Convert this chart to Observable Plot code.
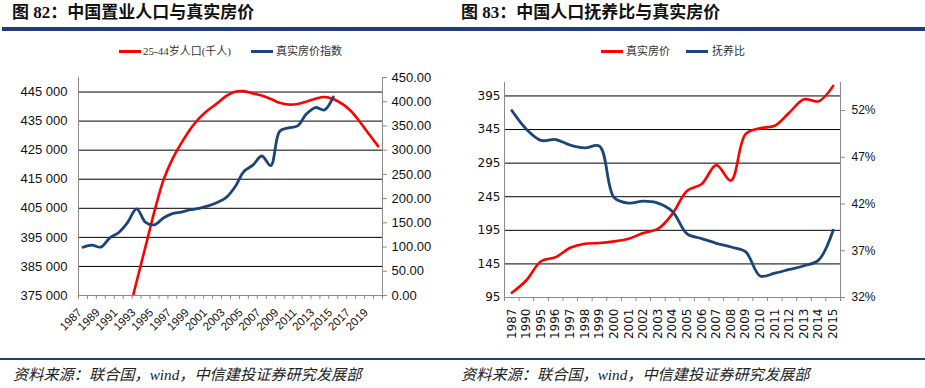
<!DOCTYPE html>
<html><head><meta charset="utf-8">
<script src="https://cdn.jsdelivr.net/npm/d3@7"></script>
<script src="https://cdn.jsdelivr.net/npm/@observablehq/plot@0.6"></script>
<style>
body{margin:0;width:925px;height:388px;position:relative;background:#fff;overflow:hidden}
.abs{position:absolute}
.title{font-family:"Liberation Serif","Noto Sans CJK SC",serif;font-weight:700;font-size:17px;color:#111;top:3px;line-height:20px;white-space:nowrap}
.rule{height:4px;background:#1f3c7c;top:27px}
.brule{height:1.5px;background:#1f3c7c;top:358px;left:0;width:925px}
.legend{font-family:"Liberation Serif","Noto Sans CJK SC",serif;font-size:11px;color:#333;top:44px;line-height:14px;white-space:nowrap}
.sw{height:3px;width:22px;top:50px}
.caption{font-family:"Liberation Serif","Noto Sans CJK SC",serif;font-style:italic;font-size:15.2px;top:366px;line-height:18px;color:#222;white-space:nowrap}
.chart{top:40px}
</style>
</head><body>
<div class="abs title" style="left:12px">图 82：中国置业人口与真实房价</div>
<div class="abs title" style="left:461px">图 83：中国人口抚养比与真实房价</div>
<div class="abs rule" style="left:2px;width:923px"></div>

<div class="abs sw" style="left:119px;background:#ff0000"></div>
<div class="abs legend" style="left:143px">25-44岁人口(千人)</div>
<div class="abs sw" style="left:251px;background:#1b4579"></div>
<div class="abs legend" style="left:276px">真实房价指数</div>

<div class="abs sw" style="left:601px;background:#ff0000"></div>
<div class="abs legend" style="left:626px">真实房价</div>
<div class="abs sw" style="left:686px;background:#1b4579"></div>
<div class="abs legend" style="left:712px">抚养比</div>

<div id="c1" class="abs chart" style="left:0px"></div>
<div id="c2" class="abs chart" style="left:460px"></div>

<div class="abs brule"></div>
<div class="abs caption" style="left:13px">资料来源：联合国，wind，中信建投证券研究发展部</div>
<div class="abs caption" style="left:461px">资料来源：联合国，wind，中信建投证券研究发展部</div>

<script>
// ---------- Figure 82 data ----------
const popYears = [1992,1993,1994,1995,1996,1997,1998,1999,2000,2001,2002,2003,2004,2005,2006,2007,2008,2009,2010,2011,2012,2013,2014,2015,2016,2017,2018,2019,2020];
const popValues = [367700,379800,391900,404000,414700,421900,427400,432200,436000,438800,441100,443600,445100,445300,444500,443800,442600,441300,440700,440900,441700,442700,443300,442600,440900,438400,434600,430500,426400];
const priceYears = [1987,1988,1989,1990,1991,1992,1993,1994,1995,1996,1997,1998,1999,2000,2001,2002,2003,2004,2005,2006,2007,2008,2009,2010,2011,2012,2013,2014,2015];
const priceIndex = [99.5,104,100,119,130,151,179,151,146,160,169,172,177,180,185,192,202,224,256,269,288,268,339,346,350,375,388,383,410];
const leftTicks1 = [375000,385000,395000,405000,415000,425000,435000,445000];
const rightTicks1 = [0,50,100,150,200,250,300,350,400,450];
const labelYears1 = [1987,1989,1991,1993,1995,1997,1999,2001,2003,2005,2007,2009,2011,2013,2015,2017,2019];
const firstYear1 = 1987, lastYear1 = 2020;

// ---------- Figure 83 data ----------
const cats2 = ["1987","1990","1995","1996","1997","1998","1999","2000","2001","2002","2003","2004","2005","2006","2007","2008","2009","2010","2011","2012","2013","2014","2015"];
const realPrice2 = [102,120.7,149,155,169,175,176,178.5,182.5,191,197,219.6,254,264,292,269,338,347,350.6,370.4,390,387,410];
const depRatio2 = [52.0,50.0,48.8,48.9,48.3,48.0,48.2,42.7,42.1,42.3,42.1,41.2,38.8,38.3,37.8,37.4,36.9,34.3,34.6,35.0,35.4,36.0,39.2];
const leftTicks2 = [95,145,195,245,295,345,395];
const rightTicks2 = [32,37,42,47,52];

const RED = "#ff0000", BLUE = "#1b4579", AXIS = "#8a8a8a";

// ---------- Chart 1 ----------
const yMin1 = 375000, yMax1 = 450000, pMax1 = 450;
const toL1 = p => yMin1 + p * (yMax1 - yMin1) / pMax1;
const fromL1 = v => (v - yMin1) * pMax1 / (yMax1 - yMin1);
const bounds1 = d3.range(firstYear1 - 0.5, lastYear1 + 1, 1);
const popData = popYears.map((y,i)=>({x:y, y:popValues[i]}));
const priceData = priceYears.map((y,i)=>({x:y, y:toL1(priceIndex[i])}));

const chart1 = Plot.plot({
  width: 460, height: 310,
  marginTop: 37, marginBottom: 55, marginLeft: 78, marginRight: 78,
  x: {type:"linear", domain:[firstYear1-0.5, lastYear1+0.5], axis:null},
  y: {domain:[yMin1, yMax1], axis:null},
  style: {fontFamily:"'Liberation Sans Narrow','Liberation Sans',Arial,sans-serif", fontSize:"13px", color:"#111", background:"transparent", overflow:"visible"},
  marks: [
    Plot.ruleY(leftTicks1.slice(1), {stroke:"#000", strokeWidth:1}),
    Plot.axisY({ticks:leftTicks1, anchor:"left", label:null, tickSize:0, tickPadding:11, tickFormat:d=>d3.format(",")(d).replace(",", " ")}),
    Plot.axisY({ticks:rightTicks1.map(toL1), anchor:"right", label:null, tickSize:4, tickPadding:5, stroke:AXIS, tickFormat:d=>fromL1(d).toFixed(2)}),
    Plot.ruleX([firstYear1-0.5, lastYear1+0.5], {stroke:AXIS}),
    Plot.ruleY([yMin1], {stroke:AXIS}),
    Plot.axisX({ticks:bounds1, label:null, tickSize:4, stroke:AXIS, tickFormat:()=>""}),
    Plot.axisX({ticks:labelYears1, label:null, tickSize:0, tickPadding:15, dx:-3, tickRotate:-45, fontSize:11.5, fontFamily:"'Liberation Sans',Arial,sans-serif", tickFormat:d=>String(d)}),
    Plot.line(popData, {x:"x", y:"y", stroke:RED, strokeWidth:2.6, curve:"catmull-rom", clip:true}),
    Plot.line(priceData, {x:"x", y:"y", stroke:BLUE, strokeWidth:2.8, curve:"catmull-rom", clip:true})
  ]
});
document.getElementById("c1").appendChild(chart1);

// ---------- Chart 2 ----------
const yMin2 = 95, yMax2 = 415, rMin2 = 32, rMax2 = 55;
const toL2 = r => yMin2 + (r - rMin2) * (yMax2 - yMin2) / (rMax2 - rMin2);
const fromL2 = v => rMin2 + (v - yMin2) * (rMax2 - rMin2) / (yMax2 - yMin2);
const n2 = cats2.length;
const bounds2 = d3.range(-0.5, n2, 1);
const priceData2 = cats2.map((c,i)=>({x:i, y:realPrice2[i]}));
const depData2 = cats2.map((c,i)=>({x:i, y:toL2(depRatio2[i])}));

const chart2 = Plot.plot({
  width: 465, height: 310,
  marginTop: 42, marginBottom: 53, marginLeft: 44, marginRight: 85,
  x: {type:"linear", domain:[-0.5, n2-0.5], axis:null},
  y: {domain:[yMin2, yMax2], axis:null},
  style: {fontFamily:"'DejaVu Sans',sans-serif", fontSize:"12px", color:"#111", background:"transparent", overflow:"visible"},
  marks: [
    Plot.ruleY(leftTicks2.slice(1), {stroke:"#000", strokeWidth:1}),
    Plot.axisY({ticks:leftTicks2, anchor:"left", label:null, tickSize:0, tickPadding:4, tickFormat:d=>String(d)}),
    Plot.axisY({ticks:rightTicks2.map(toL2), anchor:"right", label:null, tickSize:4, tickPadding:7, stroke:AXIS, fontFamily:"'Liberation Sans',Arial,sans-serif", fontSize:12, tickFormat:d=>Math.round(fromL2(d))+"%"}),
    Plot.ruleX([-0.5, n2-0.5], {stroke:AXIS}),
    Plot.ruleY([yMin2], {stroke:AXIS}),
    Plot.axisX({ticks:bounds2, label:null, tickSize:4, stroke:AXIS, tickFormat:()=>""}),
    Plot.axisX({ticks:d3.range(n2), label:null, tickSize:0, tickPadding:11, tickRotate:-90, tickFormat:i=>cats2[i]}),
    Plot.line(priceData2, {x:"x", y:"y", stroke:RED, strokeWidth:2.6, curve:"catmull-rom", clip:true}),
    Plot.line(depData2, {x:"x", y:"y", stroke:BLUE, strokeWidth:2.8, curve:"catmull-rom", clip:true})
  ]
});
document.getElementById("c2").appendChild(chart2);
</script>
</body></html>
